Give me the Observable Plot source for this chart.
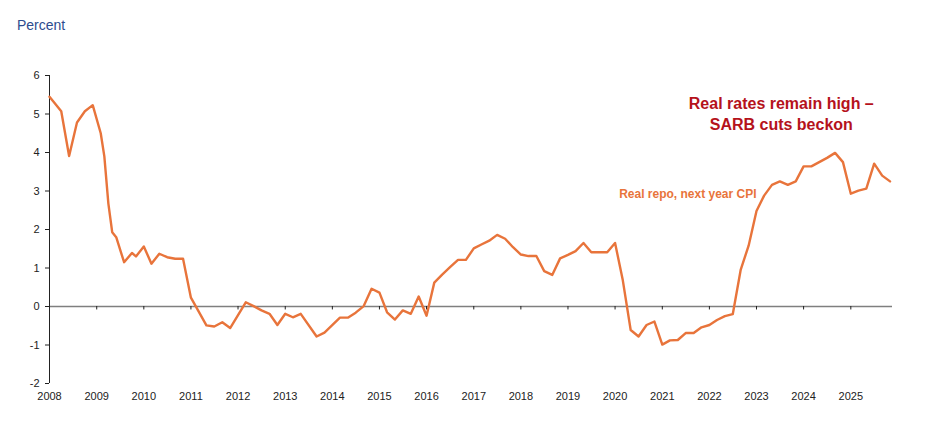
<!DOCTYPE html>
<html>
<head>
<meta charset="utf-8">
<script src="https://cdn.jsdelivr.net/npm/d3@7"></script>
<script src="https://cdn.jsdelivr.net/npm/@observablehq/plot@0.6"></script>
<style>
  html, body { margin: 0; padding: 0; background: #fff; }
  body { width: 928px; height: 427px; overflow: hidden; font-family: "Liberation Sans", Arial, sans-serif; }
  #unit { height: 45px; box-sizing: border-box; padding: 16px 0 0 17px; font-size: 14px; color: #2E4C8E; line-height: 18px; }
</style>
</head>
<body>
<div id="unit">Percent</div>
<div id="chart"></div>
<script>
const months = [
  "2008-01","2008-04","2008-06","2008-08","2008-10","2008-12",
  "2009-02","2009-03","2009-04","2009-05","2009-06","2009-08","2009-10","2009-11",
  "2010-01","2010-03","2010-05","2010-07","2010-09","2010-11",
  "2011-01","2011-05","2011-07","2011-09","2011-11",
  "2012-03","2012-05","2012-07","2012-09","2012-11",
  "2013-01","2013-03","2013-05","2013-09","2013-11",
  "2014-03","2014-05","2014-07","2014-09","2014-11",
  "2015-01","2015-03","2015-05","2015-07","2015-09","2015-11",
  "2016-01","2016-03","2016-05","2016-07","2016-09","2016-11",
  "2017-01","2017-03","2017-05","2017-07","2017-09","2017-11",
  "2018-01","2018-03","2018-05","2018-07","2018-09","2018-11",
  "2019-01","2019-03","2019-05","2019-07","2019-09","2019-11",
  "2020-01","2020-03","2020-05","2020-07","2020-09","2020-11",
  "2021-01","2021-03","2021-05","2021-07","2021-09","2021-11",
  "2022-01","2022-03","2022-05","2022-07","2022-09","2022-11",
  "2023-01","2023-03","2023-05","2023-07","2023-09","2023-11",
  "2024-01","2024-03","2024-05","2024-07","2024-09","2024-11",
  "2025-01","2025-03","2025-05","2025-07","2025-09","2025-11"
];
const realRepo = [
  5.45, 5.07, 3.91, 4.78, 5.07, 5.23,
  4.50, 3.90, 2.68, 1.93, 1.80, 1.15, 1.39, 1.30,
  1.56, 1.11, 1.37, 1.28, 1.24, 1.24,
  0.23, -0.49, -0.52, -0.41, -0.56,
  0.11, 0.01, -0.10, -0.19, -0.48,
  -0.19, -0.28, -0.19, -0.78, -0.68,
  -0.29, -0.29, -0.16, 0.01, 0.46,
  0.36, -0.15, -0.34, -0.10, -0.19, 0.26,
  -0.24, 0.62, 0.83, 1.02, 1.21, 1.21,
  1.51, 1.61, 1.71, 1.86, 1.76, 1.54,
  1.35, 1.31, 1.31, 0.92, 0.82, 1.25,
  1.34, 1.44, 1.65, 1.41, 1.41, 1.41,
  1.65, 0.68, -0.61, -0.78, -0.48, -0.39,
  -0.99, -0.88, -0.87, -0.69, -0.69, -0.54,
  -0.48, -0.35, -0.25, -0.20, 0.96, 1.58,
  2.48, 2.88, 3.16, 3.25, 3.16, 3.25,
  3.64, 3.64, 3.75, 3.86, 3.99, 3.75,
  2.93, 3.01, 3.06, 3.71, 3.40, 3.25
];
const yearLabels = [2008,2009,2010,2011,2012,2013,2014,2015,2016,2017,2018,2019,2020,2021,2022,2023,2024,2025];
const yTicks = [-2,-1,0,1,2,3,4,5,6];
const seriesLabel = "Real repo, next year CPI";
const titleLines = ["Real rates remain high \u2013", "SARB cuts beckon"];

const parse = d3.utcParse("%Y-%m");
const data = months.map((m, i) => ({date: parse(m), value: realRepo[i]}));
const yearDates = yearLabels.map(y => new Date(Date.UTC(y, 0, 1)));
const xStart = new Date(Date.UTC(2008, 0, 1));
const xEnd = new Date(Date.UTC(2025, 10, 20));

const chart = Plot.plot({
  width: 928,
  height: 382,
  marginLeft: 49,
  marginRight: 36,
  marginTop: 30,
  marginBottom: 44,
  style: {fontFamily: "'Liberation Sans', Arial, sans-serif", fontSize: "11px", color: "#222", background: "#fff"},
  x: {type: "utc", domain: [xStart, xEnd]},
  y: {domain: [-2, 6]},
  marks: [
    Plot.ruleY([0], {stroke: "#7f7f7f", strokeWidth: 1.6}),
    Plot.ruleX(yearDates.slice(1), {y1: 0, y2: -0.09, stroke: "#222", strokeWidth: 1}),
    Plot.ruleX([xStart], {stroke: "#222", strokeWidth: 1}),
    Plot.axisY({ticks: yTicks, tickSize: 4, tickPadding: 6, label: null, tickFormat: d => d, stroke: "#222"}),
    Plot.axisX({ticks: yearDates, tickSize: 0, tickPadding: 9, label: null, tickFormat: d3.utcFormat("%Y")}),
    Plot.line(data, {x: "date", y: "value", stroke: "#E8743B", strokeWidth: 2.4, strokeLinejoin: "round"}),
    Plot.text([seriesLabel], {x: () => new Date(Date.UTC(2021, 6, 18)), y: () => 2.91, text: d => d, fill: "#E8743B", fontWeight: "bold", fontSize: 12, textAnchor: "middle"}),
    Plot.text([titleLines.join("\n")], {x: () => new Date(Date.UTC(2023, 6, 12)), y: () => 5.03, text: d => d, fill: "#B5121B", fontWeight: "bold", fontSize: 16, lineHeight: 1.3, textAnchor: "middle"})
  ]
});
document.getElementById("chart").appendChild(chart);
</script>
</body>
</html>
